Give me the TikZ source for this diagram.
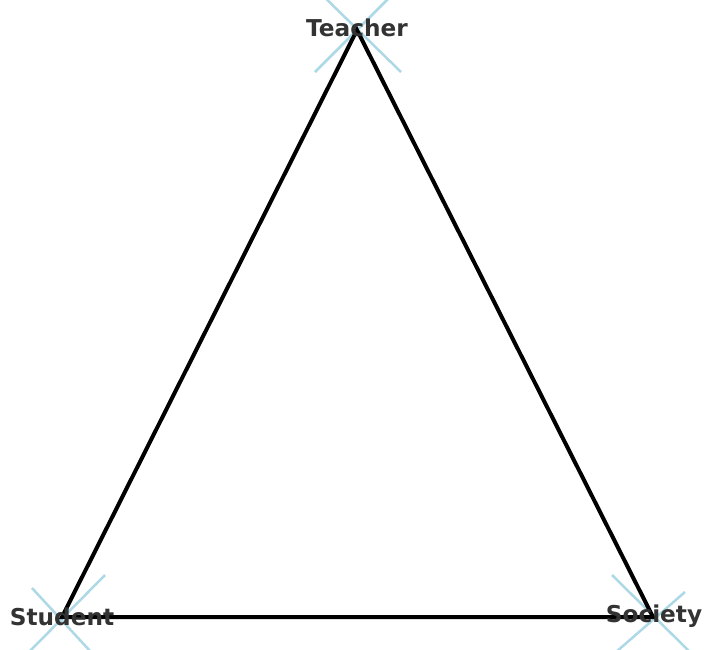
\documentclass[tikz,border=0pt]{standalone}
\usepackage{fontspec}
\setmainfont{DejaVu Sans}
\definecolor{mkblue}{RGB}{173,216,230}
\definecolor{txtgray}{RGB}{51,51,51}
\begin{document}
\begin{tikzpicture}[x=1pt,y=-1pt,
  edge/.style={line width=4pt,black,line join=miter},
  xmarker/.style={line width=2.5pt,mkblue},
  lbl/.style={font=\fontsize{23.2}{25}\selectfont\bfseries,text=txtgray,inner sep=0pt}]
\useasboundingbox (0,0) rectangle (706,649);
\clip (0,0) rectangle (706,649);
\coordinate (T) at (357,30);
\coordinate (S) at (62,617);
\coordinate (C) at (653,617);
% markers
\draw[xmarker] ([shift={(-42,-42)}]T) -- ([shift={(44,42)}]T);
\draw[xmarker] ([shift={(-42,42)}]T) -- ([shift={(42,-42)}]T);
\draw[xmarker] (32,588) -- (91,652);
\draw[xmarker] (105,575) -- (30,651);
\draw[xmarker] (612,575) -- (690,652);
\draw[xmarker] (685,592) -- (616,652);
\draw[edge] (T) -- (S) -- (C) -- cycle;
\node[lbl] (tl) at (357,28) {Teacher};
\node[lbl] (sl) at (62,617) {Student};
\node[lbl] (cl) at (654,616) {Society};
\end{tikzpicture}
\end{document}
